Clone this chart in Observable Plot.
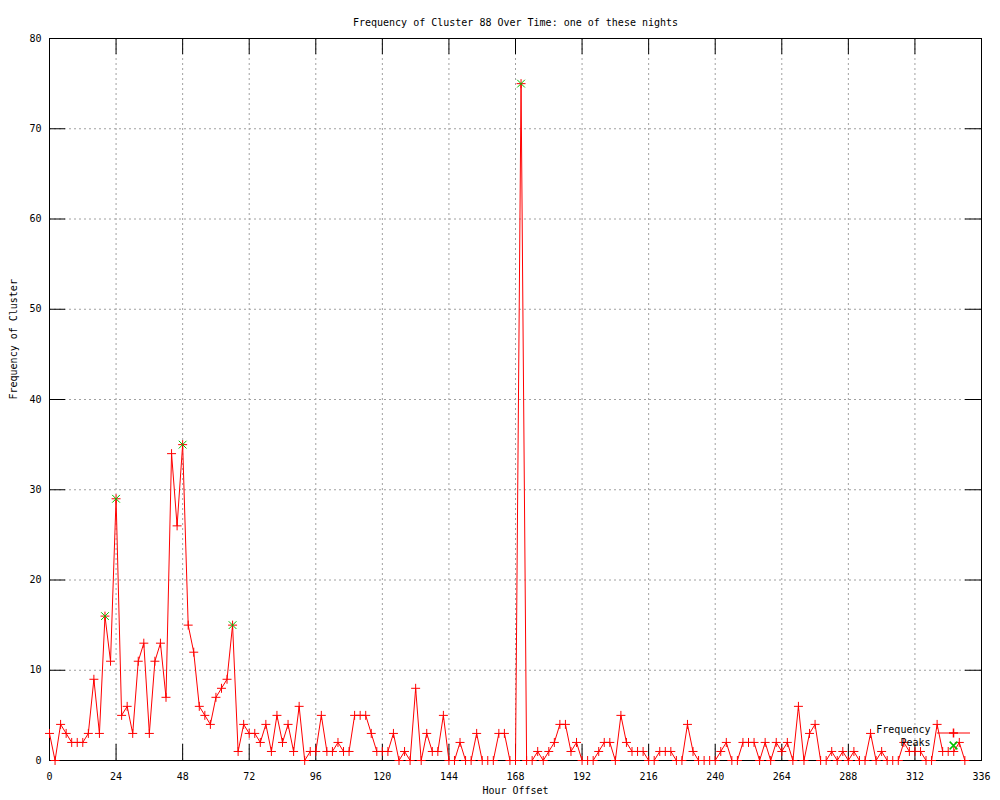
<!DOCTYPE html>
<html><head><meta charset="utf-8">
<script src="https://cdn.jsdelivr.net/npm/d3@7"></script>
<script src="https://cdn.jsdelivr.net/npm/@observablehq/plot@0.6"></script>
<style>html,body{margin:0;padding:0;background:#fff;} svg{display:block}</style>
</head><body><div id="chart"></div>
<script>
const hours = [
  0,2,4,6,8,10,12,14,16,18,
  20,22,24,26,28,30,32,34,36,38,
  40,42,44,46,48,50,52,54,56,58,
  60,62,64,66,68,70,72,74,76,78,
  80,82,84,86,88,90,92,94,96,98,
  100,102,104,106,108,110,112,114,116,118,
  120,122,124,126,128,130,132,134,136,138,
  140,142,144,146,148,150,152,154,156,158,
  160,162,164,166,168,170,172,174,176,178,
  180,182,184,186,188,190,192,194,196,198,
  200,202,204,206,208,210,212,214,216,218,
  220,222,224,226,228,230,232,234,236,238,
  240,242,244,246,248,250,252,254,256,258,
  260,262,264,266,268,270,272,274,276,278,
  280,282,284,286,288,290,292,294,296,298,
  300,302,304,306,308,310,312,314,316,318,
  320,322,324,326,328,330
];
const frequency = [
  3,0,4,3,2,2,2,3,9,3,
  16,11,29,5,6,3,11,13,3,11,
  13,7,34,26,35,15,12,6,5,4,
  7,8,9,15,1,4,3,3,2,4,
  1,5,2,4,1,6,0,1,1,5,
  1,1,2,1,1,5,5,5,3,1,
  1,1,3,0,1,0,8,0,3,1,
  1,5,0,0,2,0,0,3,0,0,
  0,3,3,0,0,75,0,0,1,0,
  1,2,4,4,1,2,0,0,0,1,
  2,2,0,5,2,1,1,1,0,0,
  1,1,1,0,0,4,1,0,0,0,
  0,1,2,0,0,2,2,2,0,2,
  0,2,1,2,0,6,0,3,4,0,
  0,1,0,1,0,1,0,0,3,0,
  1,0,0,0,2,1,1,1,0,0,
  4,1,1,1,2,0
];
const peakHours = [20, 24, 48, 66, 170];
const peakValues = [16, 29, 35, 15, 75];
const xTicks = [0,24,48,72,96,120,144,168,192,216,240,264,288,312,336];
const yTicks = [0,10,20,30,40,50,60,70,80];
const titleText = "Frequency of Cluster 88 Over Time: one of these nights";
const xLabel = "Hour Offset";
const yLabel = "Frequency of Cluster";
const seriesNames = ["Frequency", "Peaks"];

const W = 1000, H = 800, mL = 49, mR = 19, mT = 38, mB = 40;
const fw = W - mL - mR, fh = H - mT - mB;
const tickLen = 16;
const red = "#ff0000", green = "#00c000", gridGray = "#a0a0a0";

const freqData = hours.map((h, i) => ({h, v: frequency[i]}));
const peakData = peakHours.map((h, i) => ({h, v: peakValues[i]}));

const chart = Plot.plot({
  width: W, height: H,
  marginLeft: mL, marginRight: mR, marginTop: mT, marginBottom: mB,
  style: {fontFamily: "'DejaVu Sans Mono', 'Liberation Mono', monospace", fontSize: "10px", background: "#fff", color: "#000"},
  x: {domain: [0, 336], ticks: xTicks, tickSize: 0, tickPadding: 12, label: null},
  y: {domain: [0, 80], ticks: yTicks, tickSize: 0, tickPadding: 8, label: null},
  marks: [
    Plot.ruleX(xTicks, {stroke: gridGray, strokeDasharray: "2,3"}),
    Plot.ruleY(yTicks, {stroke: gridGray, strokeDasharray: "2,3"}),
    Plot.ruleX(xTicks, {stroke: "#000", insetTop: fh - tickLen}),
    Plot.ruleX(xTicks, {stroke: "#000", insetBottom: fh - tickLen}),
    Plot.ruleY(yTicks, {stroke: "#000", insetRight: fw - tickLen}),
    Plot.ruleY(yTicks, {stroke: "#000", insetLeft: fw - tickLen}),
    Plot.frame({stroke: "#000"}),
    Plot.line(freqData, {x: "h", y: "v", stroke: red, strokeWidth: 1}),
    Plot.dot(freqData, {x: "h", y: "v", symbol: "plus", r: 3, stroke: red, strokeWidth: 1}),
    Plot.dot(peakData, {x: "h", y: "v", symbol: "times", r: 3.6, stroke: green, strokeWidth: 1}),
    // legend
    Plot.text([seriesNames[0]], {text: d => d, frameAnchor: "bottom-right", dx: -51, dy: -27.5, textAnchor: "end", fontSize: 10}),
    Plot.text([seriesNames[1]], {text: d => d, frameAnchor: "bottom-right", dx: -51, dy: -15, textAnchor: "end", fontSize: 10}),
    Plot.ruleY([0], {stroke: red, dy: -27.5, insetLeft: fw - 44, insetRight: 11}),
    Plot.dot([0], {frameAnchor: "bottom-right", dx: -28, dy: -27.5, symbol: "plus", r: 3, stroke: red}),
    Plot.dot([0], {frameAnchor: "bottom-right", dx: -28, dy: -15, symbol: "times", r: 3.6, stroke: green}),
    // titles
    Plot.text([titleText], {text: d => d, frameAnchor: "top", dy: -20, fontSize: 10}),
    Plot.text([xLabel], {text: d => d, frameAnchor: "bottom", dy: 33, fontSize: 10}),
    Plot.text([yLabel], {text: d => d, frameAnchor: "left", dx: -36, rotate: -90, fontSize: 10})
  ]
});
document.getElementById("chart").appendChild(chart);
</script>
</body></html>
